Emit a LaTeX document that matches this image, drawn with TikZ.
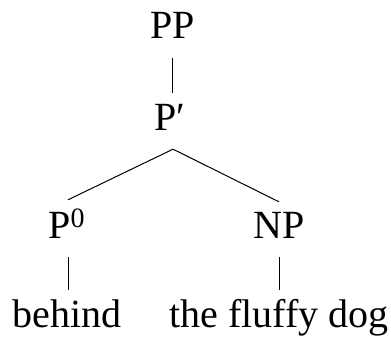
\documentclass[tikz,border=0pt]{standalone}
\usepackage{fontspec}
\setmainfont{Liberation Serif}
\begin{document}
\begin{tikzpicture}[x=1pt,y=-1pt,
  lab/.style={anchor=base,inner sep=0pt,text height=27pt,text depth=9pt,font=\fontsize{40pt}{48pt}\selectfont},
  edge/.style={line width=1pt,shorten <=9.5pt,shorten >=9.5pt},
  branch/.style={line width=1pt}]
\useasboundingbox (0,0) rectangle (391,337);
\node[lab] (PP) at (172.5,39) {PP};
\node[lab] (Pb) at (170,130) {P′};
\node[lab] (P0) at (66.5,238) {P\raisebox{11pt}{\fontsize{28pt}{28pt}\selectfont 0}};
\node[lab] (NP) at (279,238) {NP};
\node[lab] (beh) at (67,327) {behind};
\node[lab] (dog) at (279,327) {the fluffy dog};
\coordinate (apex) at ([xshift=3pt,yshift=-10pt]Pb.south);
\draw[edge] (PP.south) -- (PP.south |- Pb.north);
\draw[branch] ([xshift=1.5pt,yshift=11pt]P0.north) -- (apex) -- ([yshift=9pt]NP.north);
\draw[edge] ([xshift=1.5pt]P0.south) -- ([xshift=1.5pt]P0.south |- beh.north);
\draw[edge] (NP.south) -- (dog.north);
\end{tikzpicture}
\end{document}
